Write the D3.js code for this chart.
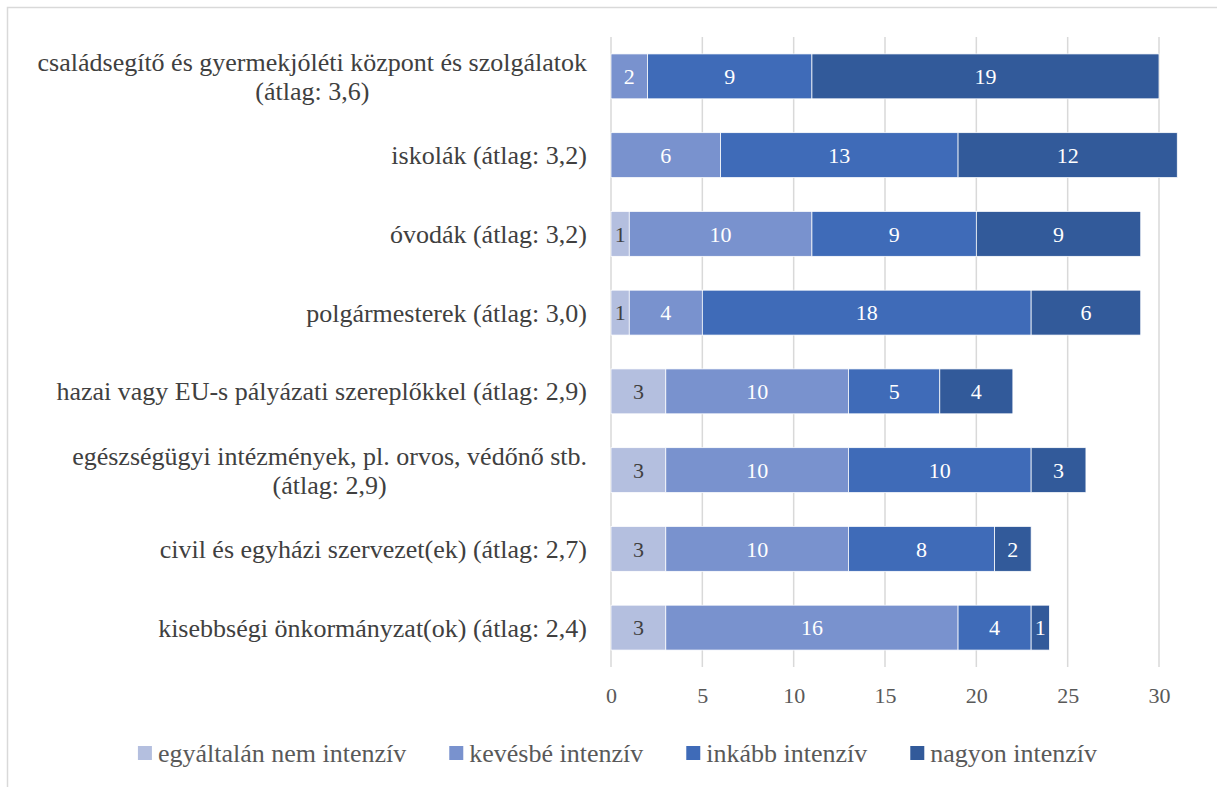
<!DOCTYPE html>
<html>
<head>
<meta charset="utf-8">
<script src="https://cdn.jsdelivr.net/npm/d3@7"></script>
<style>
	body { margin: 0; background: #fff; }
	svg text { font-family: "Liberation Serif", "Times New Roman", Times, "DejaVu Serif", serif !important; }
</style>
</head>
<body>
<div id="chart"></div>
<script>
// categories, top to bottom (lines of each label)
var categories = [
	["családsegítő és gyermekjóléti központ és szolgálatok", "(átlag: 3,6)"],
	["iskolák (átlag: 3,2)"],
	["óvodák (átlag: 3,2)"],
	["polgármesterek (átlag: 3,0)"],
	["hazai vagy EU-s pályázati szereplőkkel (átlag: 2,9)"],
	["egészségügyi intézmények, pl. orvos, védőnő stb.", "(átlag: 2,9)"],
	["civil és egyházi szervezet(ek) (átlag: 2,7)"],
	["kisebbségi önkormányzat(ok) (átlag: 2,4)"]
];
var seriesNames = ["egyáltalán nem intenzív", "kevésbé intenzív", "inkább intenzív", "nagyon intenzív"];
var egyaltalanNem = [0, 0, 1, 1, 3, 3, 3, 3];
var kevesbe = [2, 6, 10, 4, 10, 10, 10, 16];
var inkabb = [9, 13, 9, 18, 5, 10, 8, 4];
var nagyon = [19, 12, 9, 6, 4, 3, 2, 1];
var xTicks = [0, 5, 10, 15, 20, 25, 30];

var colors = ["#b4bfdf", "#7992ce", "#3f6bb8", "#325a9a"];
var labelColors = ["#404040", "#fff", "#fff", "#fff"];

var width = 1217, height = 787;
var svg = d3.select("#chart").append("svg")
	.attr("width", width)
	.attr("height", height);

// chart border
svg.append("rect")
	.attr("x", 7.5).attr("y", 7.5)
	.attr("width", width + 20).attr("height", height + 20)
	.attr("fill", "none")
	.attr("stroke", "#d9d9d9")
	.attr("stroke-width", 1.5);

var rows = categories.map(function(c, i){
	return { idx: i, lines: c, v: [egyaltalanNem[i], kevesbe[i], inkabb[i], nagyon[i]] };
});

var x = d3.scaleLinear().domain([0, 30]).range([611, 1159]);
var y = d3.scaleBand()
	.domain(d3.range(categories.length))
	.range([37, 667])
	.paddingInner(0.43)
	.paddingOuter(0.215);

// gridlines
svg.selectAll("line.grid").data(xTicks).enter()
	.append("line")
	.attr("class", "grid")
	.attr("x1", function(d){ return x(d); })
	.attr("x2", function(d){ return x(d); })
	.attr("y1", 37)
	.attr("y2", 667)
	.attr("stroke", "#d9d9d9")
	.attr("stroke-width", 1.5);

// x axis labels
var xAxis = d3.axisBottom(x).tickValues(xTicks).tickSize(0).tickPadding(0);
var gx = svg.append("g").attr("transform", "translate(0,687)").call(xAxis);
gx.select(".domain").remove();
gx.attr("font-family", null);
gx.selectAll("text")
	.attr("dy", "0.71em")
	.attr("font-size", 22)
	.attr("fill", "#595959");

// stacked bars
var stack = d3.stack().keys([0, 1, 2, 3]).value(function(d, k){ return d.v[k]; });
var layers = stack(rows);

var g = svg.selectAll("g.layer").data(layers).enter()
	.append("g")
	.attr("class", "layer");

g.selectAll("rect").data(function(d){ return d.filter(function(s){ return s[1] > s[0]; }); }).enter()
	.append("rect")
	.attr("x", function(d){ return x(d[0]); })
	.attr("y", function(d){ return y(d.data.idx); })
	.attr("width", function(d){ return x(d[1]) - x(d[0]); })
	.attr("height", y.bandwidth())
	.attr("fill", function(){ return colors[d3.select(this.parentNode).datum().key]; })
	.attr("stroke", "#fff")
	.attr("stroke-width", 0.75);

g.selectAll("text").data(function(d){ return d.filter(function(s){ return s[1] > s[0]; }); }).enter()
	.append("text")
	.attr("x", function(d){ return (x(d[0]) + x(d[1])) / 2; })
	.attr("y", function(d){ return y(d.data.idx) + y.bandwidth() / 2; })
	.attr("dy", "0.35em")
	.attr("text-anchor", "middle")
	.attr("font-size", 22)
	.attr("fill", function(){ return labelColors[d3.select(this.parentNode).datum().key]; })
	.text(function(d){ return d[1] - d[0]; });

// category labels
var labelRight = 587;
var cat = svg.selectAll("g.cat").data(rows).enter()
	.append("g")
	.attr("class", "cat");
cat.each(function(r){
	var gg = d3.select(this);
	var cy = y(r.idx) + y.bandwidth() / 2;
	var n = r.lines.length;
	var texts = gg.selectAll("text").data(r.lines).enter()
		.append("text")
		.attr("y", function(d, i){ return cy + (i - (n - 1) / 2) * 29; })
		.attr("dy", "0.35em")
		.attr("font-size", 26)
		.attr("fill", "#404040")
		.text(function(d){ return d; });
	var maxW = 0;
	texts.each(function(){ maxW = Math.max(maxW, this.getComputedTextLength()); });
	texts.attr("text-anchor", "middle").attr("x", labelRight - maxW / 2);
});

// legend
var legend = svg.append("g");
var items = legend.selectAll("g").data(seriesNames).enter().append("g");
items.append("rect")
	.attr("width", 14).attr("height", 14)
	.attr("y", 746)
	.attr("fill", function(d, i){ return colors[i]; });
items.append("text")
	.attr("x", 20)
	.attr("y", 753)
	.attr("dy", "0.35em")
	.attr("font-size", 26)
	.attr("fill", "#595959")
	.text(function(d){ return d; });
var pos = 0, widths = [];
items.each(function(){
	var w = 20 + d3.select(this).select("text").node().getComputedTextLength();
	widths.push(w);
});
var total = d3.sum(widths) + 43 * (widths.length - 1);
pos = 617.5 - total / 2;
items.attr("transform", function(d, i){
	var t = "translate(" + pos + ",0)";
	pos += widths[i] + 43;
	return t;
});
</script>
</body>
</html>
